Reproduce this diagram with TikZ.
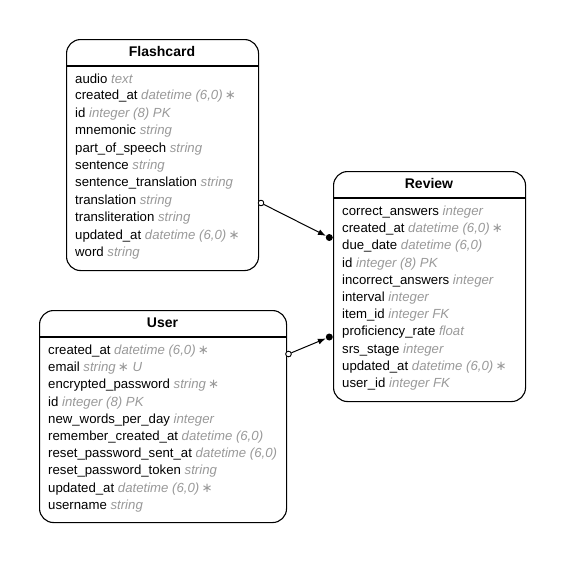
\documentclass[tikz,border=0pt]{standalone}
\usepackage{fontspec}
\setmainfont{Liberation Sans}
\newfontfamily\symfont{DejaVu Sans}
\usetikzlibrary{arrows.meta}
\definecolor{typegray}{HTML}{999999}
\tikzset{
  entbox/.style={draw, line width=1.1pt, rounded corners=14pt},
  ttl/.style={font=\fontsize{14pt}{16pt}\selectfont\bfseries, anchor=center, inner sep=0pt},
  row/.style={font=\fontsize{13.2pt}{15pt}\selectfont, anchor=west, inner sep=0pt},
  rel/.style={line width=1pt, -{Latex[length=8pt,width=6pt]}},
  opendot/.style={draw, fill=white, line width=0.8pt, circle, inner sep=0pt, minimum size=5.5pt},
  fulldot/.style={fill=black, circle, inner sep=0pt, minimum size=7pt},
}
\newcommand{\ty}[1]{\textcolor{typegray}{\itshape #1}}
\newcommand{\st}{\,{\symfont\upshape ∗}}
\begin{document}
\begin{tikzpicture}[x=1pt,y=1pt]
\useasboundingbox (0,0) rectangle (563,-563);
% Flashcard
\node[entbox, minimum width=192pt, minimum height=231pt, anchor=north west] (fc) at (66,-39) {};
\draw[line width=1.1pt] (66,-66) -- (258,-66);
\node[ttl] (fct) at (162,-51.5) {Flashcard};
\foreach \t [count=\i from 0] in {
 {audio \ty{text}},
 {created\_at \ty{datetime (6,0)\st}},
 {id \ty{integer (8) PK}},
 {mnemonic \ty{string}},
 {part\_of\_speech \ty{string}},
 {sentence \ty{string}},
 {sentence\_translation \ty{string}},
 {translation \ty{string}},
 {transliteration \ty{string}},
 {updated\_at \ty{datetime (6,0)\st}},
 {word \ty{string}}}
 \node[row] (fr\i) at (75,{-79-17.4*\i}) {\t};
% Review
\node[entbox, minimum width=192pt, minimum height=230pt, anchor=north west] (rv) at (333,-171) {};
\draw[line width=1.1pt] (333,-198) -- (525,-198);
\node[ttl] (rvt) at (429,-183.5) {Review};
\foreach \t [count=\i from 0] in {
 {correct\_answers \ty{integer}},
 {created\_at \ty{datetime (6,0)\st}},
 {due\_date \ty{datetime (6,0)}},
 {id \ty{integer (8) PK}},
 {incorrect\_answers \ty{integer}},
 {interval \ty{integer}},
 {item\_id \ty{integer FK}},
 {proficiency\_rate \ty{float}},
 {srs\_stage \ty{integer}},
 {updated\_at \ty{datetime (6,0)\st}},
 {user\_id \ty{integer FK}}}
 \node[row] (rr\i) at (342,{-212-17.2*\i}) {\t};
% User
\node[entbox, minimum width=247pt, minimum height=212pt, anchor=north west] (us) at (39,-310) {};
\draw[line width=1.1pt] (39,-337) -- (286,-337);
\node[ttl] (ust) at (162.5,-322.5) {User};
\foreach \t [count=\i from 0] in {
 {created\_at \ty{datetime (6,0)\st}},
 {email \ty{string\st{} U}},
 {encrypted\_password \ty{string\st}},
 {id \ty{integer (8) PK}},
 {new\_words\_per\_day \ty{integer}},
 {remember\_created\_at \ty{datetime (6,0)}},
 {reset\_password\_sent\_at \ty{datetime (6,0)}},
 {reset\_password\_token \ty{string}},
 {updated\_at \ty{datetime (6,0)\st}},
 {username \ty{string}}}
 \node[row] (ur\i) at (48,{-351-17.2*\i}) {\t};
% connectors
\node[opendot] (o1) at (261,-203) {};
\node[fulldot] (d1) at (329.3,-237.5) {};
\node[opendot] (o2) at (288.5,-354) {};
\node[fulldot] (d2) at (329.3,-337) {};
\draw[rel] (o1) -- (d1);
\draw[rel] (o2) -- (d2);
\node[opendot] at (o1) {};
\node[opendot] at (o2) {};
\end{tikzpicture}
\end{document}
